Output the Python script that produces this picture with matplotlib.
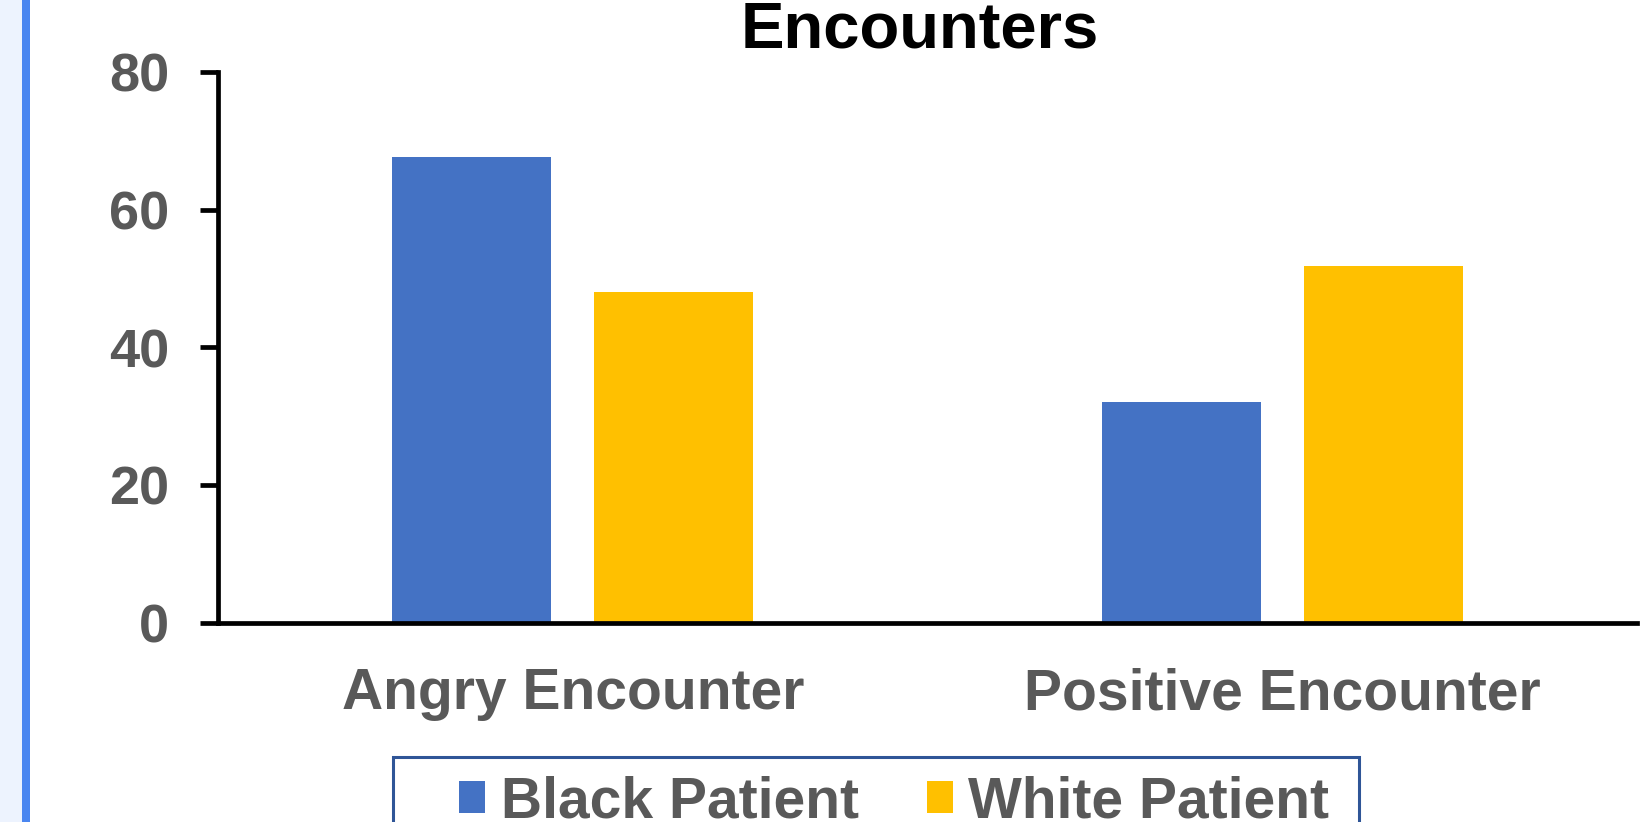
import matplotlib
matplotlib.use("Agg")
import matplotlib.pyplot as plt
from matplotlib.patches import Rectangle
import numpy as np

# data
categories = ["Angry Encounter", "Positive Encounter"]
black_patient = [67.7, 32.1]
white_patient = [48.1, 51.8]
series_names = ["Black Patient", "White Patient"]
y_ticks = [0, 20, 40, 60, 80]

BLUE = "#4472C4"
GOLD = "#FFC000"
GRAY = "#595959"

plt.rcParams["font.family"] = ["Liberation Sans", "DejaVu Sans"]
plt.rcParams["font.weight"] = "bold"

fig = plt.figure(figsize=(16.5, 8.22), dpi=100)
W, H = 1650, 822

# left side strip (page background + blue rule)
fig.patches.append(Rectangle((0, 0), 22 / W, 1, transform=fig.transFigure,
                             facecolor="#EDF3FE", edgecolor="none", zorder=0))
fig.patches.append(Rectangle((22 / W, 0), 8 / W, 1, transform=fig.transFigure,
                             facecolor="#4A86F0", edgecolor="none", zorder=0))

ax = fig.add_axes([218 / W, 1 - 623 / H, (1637 - 218) / W, (623 - 72) / H])

x = np.arange(len(categories))
width = 0.224
offset = 0.1424
ax.bar(x - offset, black_patient, width, color=BLUE, label=series_names[0], zorder=2)
ax.bar(x + offset, white_patient, width, color=GOLD, label=series_names[1], zorder=2)

ax.set_xlim(-0.5, 1.5)
ax.set_ylim(0, 80)
ax.set_yticks(y_ticks)
ax.set_xticks(x)
ax.set_xticklabels(categories)

for side in ["top", "right"]:
    ax.spines[side].set_visible(False)
for side in ["left", "bottom"]:
    ax.spines[side].set_linewidth(3.4)
    ax.spines[side].set_color("black")
    ax.spines[side].set_zorder(3)

ax.tick_params(axis="y", direction="out", length=13, width=3.4, pad=22,
               labelsize=39, labelcolor=GRAY, color="black")
ax.tick_params(axis="x", length=0, pad=32, labelsize=41, labelcolor=GRAY)
for lab in ax.get_xticklabels() + ax.get_yticklabels():
    lab.set_fontweight("bold")

# title (first line is outside the visible crop)
fig.text(920 / W, 1 - 48 / H, "Encounters", ha="center", va="baseline",
         fontsize=47, fontweight="bold", color="black")

# legend box runs past the bottom edge, so draw the frame by hand
fig.patches.append(Rectangle((393 / W, -0.1), (1359 - 393) / W, 0.1 + 1 - 757 / H,
                             transform=fig.transFigure, facecolor="white",
                             edgecolor="#2F5597", linewidth=2.2, zorder=1))

leg = fig.legend(loc="upper left", bbox_to_anchor=(459 / W, 1 - 775 / H),
                 ncol=2, fontsize=41, frameon=False,
                 handlelength=0.45, handleheight=0.5, handletextpad=0.28,
                 columnspacing=1.2, borderpad=0, borderaxespad=0)
for t in leg.get_texts():
    t.set_color(GRAY)
    t.set_fontweight("bold")

fig.savefig("out.png", dpi=100, facecolor="white")
